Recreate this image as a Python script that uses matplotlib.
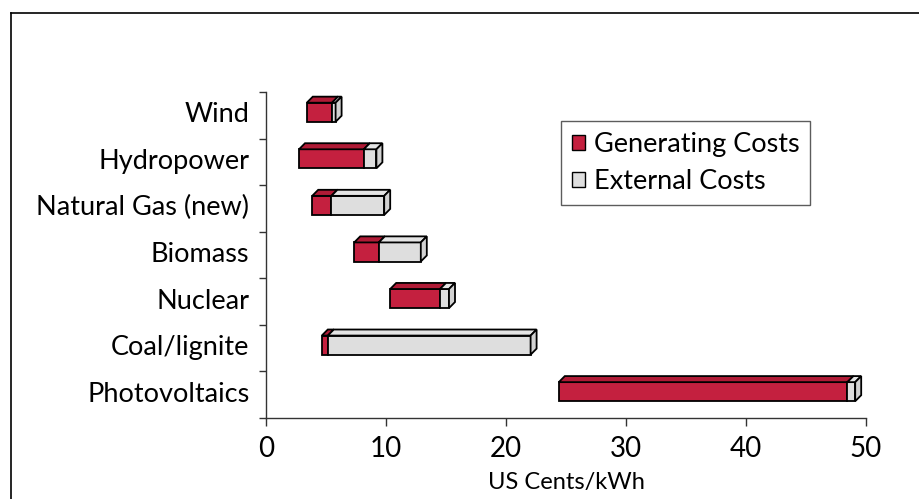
import numpy as np
import matplotlib as mpl
mpl.use("Agg")
import matplotlib.pyplot as plt
from matplotlib.patches import Polygon, Rectangle
from matplotlib.lines import Line2D

plt.rcParams['font.family'] = ['Lato', 'DejaVu Sans']

# data (US cents/kWh)
sources = ['Wind', 'Hydropower', 'Natural Gas (new)', 'Biomass',
           'Nuclear', 'Coal/lignite', 'Photovoltaics']
gen_start = [3.4, 2.75, 3.85, 7.35, 10.35, 4.65, 24.4]
gen_cost = [2.1, 5.4, 1.6, 2.05, 4.15, 0.5, 24.05]
ext_cost = [0.3, 1.05, 4.4, 3.5, 0.75, 16.9, 0.65]

RED, RED_TOP = '#c4203f', '#b01b36'
GREY, GREY_TOP, GREY_SIDE = '#dedede', '#e4e4e4', '#d2d2d2'

fig = plt.figure(figsize=(9.19, 4.99), dpi=100)
ax = fig.add_axes([266/919, 1-418/499, 600/919, 326/499])

y = np.arange(len(sources))
h = 0.41
yc = y - 0.065          # front face sits a bit above the category centre
dx, dy = 0.5, 0.13      # depth of the 3d boxes

gen_end = np.array(gen_start) + np.array(gen_cost)
ext_end = gen_end + np.array(ext_cost)

def box3d(x0, x1, yy, front, top, side, z):
    ax.add_patch(Rectangle((x0, yy - h/2), x1 - x0, h, facecolor=front,
                           edgecolor='black', lw=1.3, zorder=z))
    ax.add_patch(Polygon([(x0, yy - h/2), (x0 + dx, yy - h/2 - dy),
                          (x1 + dx, yy - h/2 - dy), (x1, yy - h/2)],
                         closed=True, facecolor=top, edgecolor='black', lw=1.3, zorder=z))
    if side is not None:
        ax.add_patch(Polygon([(x1, yy - h/2), (x1 + dx, yy - h/2 - dy),
                              (x1 + dx, yy + h/2 - dy), (x1, yy + h/2)],
                             closed=True, facecolor=side, edgecolor='black', lw=1.3, zorder=z))

for i in range(len(sources)):
    # red segment first; its right side is hidden behind the grey box
    box3d(gen_start[i], gen_end[i], yc[i], RED, RED_TOP, None, 2)
    box3d(gen_end[i], ext_end[i], yc[i], GREY, GREY_TOP, GREY_SIDE, 3)

ax.set_xlim(0, 50)
ax.set_ylim(6.5, -0.5)
ax.set_xticks([0, 10, 20, 30, 40, 50])
ax.set_yticks(yc)
ax.set_yticklabels(sources)
ax.set_yticks(np.arange(-0.5, 7, 1), minor=True)
ax.tick_params(axis='y', which='major', length=0, pad=12, labelsize=19.5)
ax.tick_params(axis='y', which='minor', length=5, width=1, color='#333333')
ax.tick_params(axis='x', length=6, width=1, color='#333333', pad=7, labelsize=20)
for s in ['top', 'right']:
    ax.spines[s].set_visible(False)
for s in ['left', 'bottom']:
    ax.spines[s].set_color('#333333')
    ax.spines[s].set_linewidth(1)
ax.set_xlabel('US Cents/kWh', fontsize=17, labelpad=7)

handles = [Rectangle((0, 0), 1, 1, facecolor=RED, edgecolor='black', lw=1),
           Rectangle((0, 0), 1, 1, facecolor=GREY, edgecolor='black', lw=1)]
leg = ax.legend(handles, ['Generating Costs', 'External Costs'],
                loc='upper left', bbox_to_anchor=((561-266)/600, (418-121)/326),
                fontsize=19.5, frameon=True, fancybox=False, edgecolor='#333333',
                handlelength=0.5, handleheight=0.5, handletextpad=0.3,
                borderpad=0.4, labelspacing=0.45, borderaxespad=0)
leg.get_frame().set_linewidth(1)

# outer frame (only top and left edges visible)
fig.add_artist(Line2D([10.5/919, 10.5/919], [0, 1-12.5/499], transform=fig.transFigure,
                      color='black', lw=1.2))
fig.add_artist(Line2D([10.5/919, 1], [1-12.5/499, 1-12.5/499], transform=fig.transFigure,
                      color='black', lw=1.2))

fig.savefig('out.png', dpi=100)
